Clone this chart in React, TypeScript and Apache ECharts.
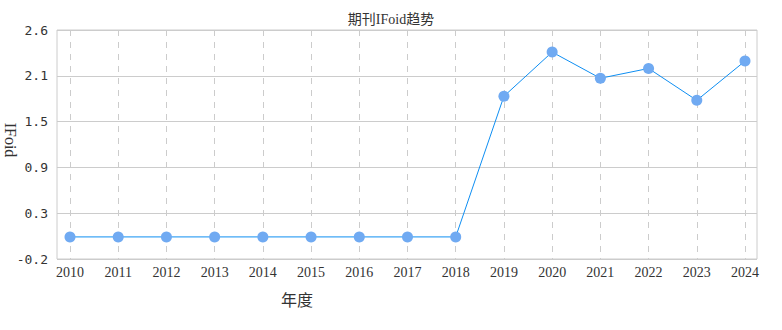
import React, { useEffect, useRef } from "react";
import * as echarts from "echarts";

const years = ["2010","2011","2012","2013","2014","2015","2016","2017","2018","2019","2020","2021","2022","2023","2024"];
const ifoidValues = [0.07,0.07,0.07,0.07,0.07,0.07,0.07,0.07,0.07,1.79,2.33,2.01,2.13,1.74,2.22];
const yTickLabels = ["-0.2","0.3","0.9","1.5","2.1","2.6"];
const yMin = -0.2;
const yMax = 2.6;
const yInterval = 0.56;

export default function App() {
  const ref = useRef<HTMLDivElement>(null);
  useEffect(() => {
    document.body.style.margin = "0";
    if (!ref.current) return;
    const chart = echarts.init(ref.current, null, { renderer: "svg" });
    const serif = "'Liberation Serif', 'Noto Sans CJK SC', serif";
    chart.setOption({
      animation: false,
      title: {
        text: "期刊IFoid趋势",
        left: "center",
        top: 7,
        textStyle: { fontFamily: serif, fontSize: 14, fontWeight: "normal", color: "#333" },
      },
      grid: [
        { left: 57, right: 25, top: 30, bottom: 71, show: true, borderColor: "#ccc", borderWidth: 1, backgroundColor: "transparent" },
        { left: 70, right: 37, top: 30, bottom: 71 },
      ],
      xAxis: [
        { type: "value", gridIndex: 0, show: false, min: 0, max: 1 },
        {
          type: "category",
          gridIndex: 1,
          data: years,
          boundaryGap: false,
          axisLine: { show: false },
          axisTick: { show: false },
          axisLabel: { fontFamily: serif, fontSize: 14, color: "#333", margin: 6 },
          splitLine: { show: true, lineStyle: { type: [6, 6], color: "#ccc", width: 1 } },
        },
      ],
      yAxis: [
        {
          type: "value",
          gridIndex: 0,
          min: yMin,
          max: yMax,
          interval: yInterval,
          axisLine: { show: false },
          axisTick: { show: false },
          axisLabel: {
            fontFamily: "'DejaVu Sans Mono', monospace",
            fontSize: 13,
            color: "#333",
            margin: 9,
            formatter: (_v: number, i: number) => yTickLabels[i] ?? "",
          },
          splitLine: { show: true, lineStyle: { color: "#ccc", width: 1 } },
        },
        { type: "value", gridIndex: 1, min: yMin, max: yMax, show: false },
      ],
      graphic: [
        {
          type: "text",
          x: 297,
          y: 300,
          style: { text: "年度", fontFamily: serif, fontSize: 16, fill: "#333", align: "center", verticalAlign: "middle" },
        },
        {
          type: "text",
          x: 10,
          y: 140,
          rotation: -Math.PI / 2,
          style: { text: "IFoid", fontFamily: serif, fontSize: 16, fill: "#333", align: "center", verticalAlign: "middle" },
        },
      ],
      series: [
        {
          type: "line",
          xAxisIndex: 1,
          yAxisIndex: 1,
          data: ifoidValues,
          symbol: "circle",
          symbolSize: 11,
          lineStyle: { color: "#0e8ef2", width: 1 },
          itemStyle: { color: "#70aaf2" },
        },
      ],
    });
    return () => chart.dispose();
  }, []);
  return <div ref={ref} style={{ width: 782, height: 330 }} />;
}
